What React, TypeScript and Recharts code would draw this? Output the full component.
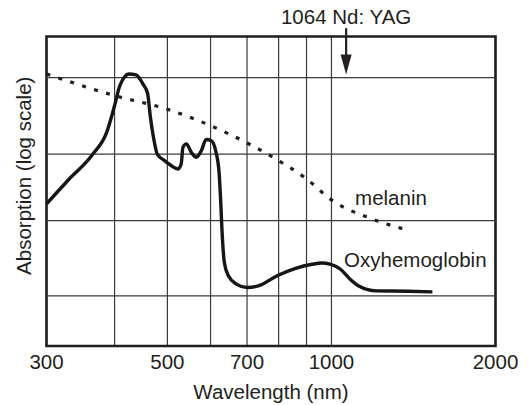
import React from 'react';
import {
  LineChart,
  Line,
  XAxis,
  YAxis,
  CartesianGrid,
  ReferenceArea,
  ReferenceLine,
  ReferenceDot,
} from 'recharts';

// wavelength in nm, absorption in arbitrary units (0..100 across the frame)
const hbWavelength = [
  300, 328, 365, 387, 400, 409, 425, 438, 451, 460, 465, 472, 479, 494, 508,
  523, 530, 534, 542, 553, 565, 577, 589, 602, 614, 622, 626, 630, 636, 647,
  669, 700, 734, 795, 857, 922, 958, 997, 1039, 1082, 1127, 1207, 1383, 1532,
];
const hbAbsorption = [
  45.9, 53.4, 62, 69.1, 77.7, 84.1, 87.9, 87.6, 84.6, 81.5, 74.4, 66.9, 62, 59.9, 58.3,
  57.2, 58.8, 64.2, 65.3, 62.6, 61, 63.1, 66.7, 66.3, 62.6, 56.1, 47.5, 36.7, 27, 22.7,
  20, 18.9, 19.4, 22.7, 25, 26.4, 26.8, 26.4, 24.8, 21.6, 19.2, 17.8, 17.7, 17.5,
];

const melaninWavelength = [300, 400, 500, 600, 700, 800, 900, 1000, 1190, 1356];
const melaninAbsorption = [87.9, 80.9, 76.5, 71.2, 65.6, 59.9, 54, 47.2, 41, 37.8];

const xTicks = [300, 400, 500, 600, 700, 800, 900, 1000, 2000];
const xLabels = [300, 500, 700, 1000, 2000];
const yGrid = [16.2, 40.5, 62, 86.7];

const laserWavelength = 1064;
const laserLabel = '1064 Nd: YAG';
const arrowFrom = 102.7;
const arrowTo = 87.7;

const melaninLabel = { nm: 1105, abs: 45.7, text: 'melanin' };
const hbLabel = { nm: 1055, abs: 25.4, text: 'Oxyhemoglobin' };

const hbData = hbWavelength.map((nm, i) => ({ nm, abs: hbAbsorption[i] }));
const melaninData = melaninWavelength.map((nm, i) => ({ nm, abs: melaninAbsorption[i] }));

const ink = '#231f20';
const gridColor = '#3a3a3a';
const fontSize = 20.5;

const Arrow = (props: any) => {
  const { x1, y1, x2, y2 } = props;
  return (
    <g>
      <text x={x1} y={y1 - 4} textAnchor="middle" fontSize={fontSize} fill={ink}>
        {laserLabel}
      </text>
      <line x1={x1} y1={y1} x2={x2} y2={y2 - 14} stroke={ink} strokeWidth={2.2} />
      <polygon
        points={`${x2 - 5.5},${y2 - 20} ${x2 + 5.5},${y2 - 20} ${x2},${y2}`}
        fill={ink}
      />
    </g>
  );
};

const curveLabel = (text: string) => (p: any) => (
  <text x={p.viewBox.x} y={p.viewBox.y} fontSize={fontSize} fill={ink}>
    {text}
  </text>
);

const yLabel = (p: any) => {
  const vb = p.viewBox;
  const x = vb.x + 30.5;
  const y = vb.y + vb.height / 2 - 15.5;
  return (
    <text x={x} y={y} transform={`rotate(-90 ${x} ${y})`} textAnchor="middle" fontSize={fontSize} fill={ink}>
      Absorption (log scale)
    </text>
  );
};

export default function App() {
  return (
    <div
      style={{
        position: 'absolute',
        left: 0,
        top: 0,
        width: 529,
        height: 405,
        background: '#fff',
        fontFamily: '"Liberation Sans", Arial, sans-serif',
      }}
    >
      <LineChart width={529} height={405} margin={{ top: 36.5, right: 33.5, bottom: 0, left: 0 }}>
        <CartesianGrid stroke={gridColor} strokeWidth={1.2} horizontal={false} verticalValues={xTicks} />
        <XAxis
          type="number"
          dataKey="nm"
          scale="log"
          domain={[300, 2000]}
          allowDataOverflow
          ticks={xTicks}
          interval={0}
          tickFormatter={(v: number) => (xLabels.includes(v) ? String(v) : '')}
          tick={{ fontSize, fill: ink }}
          tickLine={false}
          axisLine={false}
          tickSize={0}
          tickMargin={8}
          height={59}
          label={{ value: 'Wavelength (nm)', position: 'insideBottom', offset: 6.5, fontSize, fill: ink }}
        />
        <YAxis
          type="number"
          domain={[0, 100]}
          ticks={yGrid}
          width={46.5}
          tick={false}
          tickLine={false}
          axisLine={false}
          label={yLabel}
        />
        {yGrid.map((v) => (
          <ReferenceLine key={v} y={v} stroke={gridColor} strokeWidth={1.2} />
        ))}
        <ReferenceArea
          x1={300}
          x2={2000}
          y1={0}
          y2={100}
          fill="none"
          fillOpacity={0}
          stroke="#1e1e1e"
          strokeWidth={2.6}
        />
        <Line
          data={melaninData}
          dataKey="abs"
          type="monotone"
          stroke={ink}
          strokeWidth={3.2}
          strokeDasharray="4 8.5"
          dot={false}
          isAnimationActive={false}
        />
        <Line
          data={hbData}
          dataKey="abs"
          type="monotone"
          stroke="#161616"
          strokeWidth={3.4}
          dot={false}
          isAnimationActive={false}
        />
        <ReferenceLine
          segment={[
            { x: laserWavelength, y: arrowFrom },
            { x: laserWavelength, y: arrowTo },
          ]}
          ifOverflow="visible"
          shape={Arrow}
        />
        <ReferenceDot
          x={melaninLabel.nm}
          y={melaninLabel.abs}
          r={0}
          fill="none"
          stroke="none"
          ifOverflow="visible"
          label={curveLabel(melaninLabel.text)}
        />
        <ReferenceDot
          x={hbLabel.nm}
          y={hbLabel.abs}
          r={0}
          fill="none"
          stroke="none"
          ifOverflow="visible"
          label={curveLabel(hbLabel.text)}
        />
      </LineChart>
    </div>
  );
}
